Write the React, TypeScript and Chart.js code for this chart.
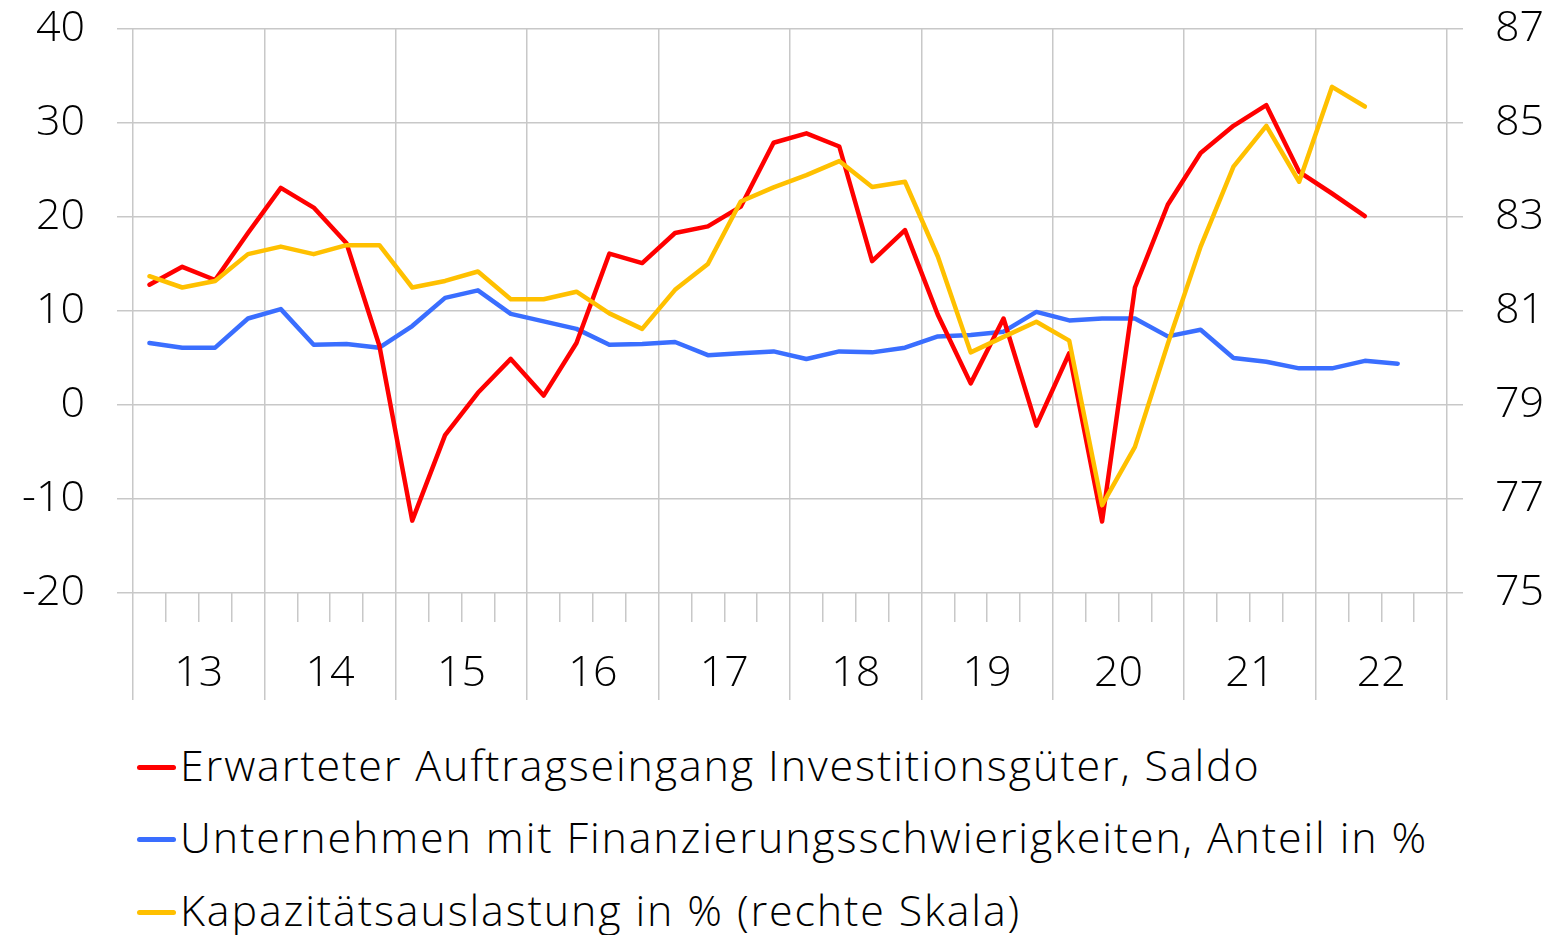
import React, { useEffect, useRef } from 'react';
import { Chart, registerables } from 'chart.js';

Chart.register(...registerables);

// ---- data ----
const years = ['13', '14', '15', '16', '17', '18', '19', '20', '21', '22'];
const quartersPerYear = 4;

const seriesLabels = [
  'Erwarteter Auftragseingang Investitionsgüter, Saldo',
  'Unternehmen mit Finanzierungsschwierigkeiten, Anteil in %',
  'Kapazitätsauslastung in % (rechte Skala)',
];

const seriesColors = ['#FF0000', '#3A6EFF', '#FFC000'];

// quarterly values, starting 2013 Q1
const auftragseingang = [
  12.8, 14.7, 13.3, 18.3, 23.1, 21.0, 17.2, 6.3,
  -12.3, -3.2, 1.3, 4.9, 1.0, 6.6, 16.1, 15.1,
  18.3, 19.0, 21.1, 27.9, 28.9, 27.5, 15.3, 18.6,
  9.6, 2.3, 9.2, -2.2, 5.5, -12.4, 12.5, 21.3,
  26.8, 29.7, 31.9, 24.8, 22.5, 20.1,
];

const finanzierung = [
  6.6, 6.1, 6.1, 9.2, 10.2, 6.4, 6.5, 6.1,
  8.4, 11.4, 12.2, 9.7, 8.9, 8.1, 6.4, 6.5,
  6.7, 5.3, 5.5, 5.7, 4.9, 5.7, 5.6, 6.1,
  7.3, 7.45, 7.8, 9.9, 9.0, 9.2, 9.2, 7.3,
  8.0, 5.0, 4.6, 3.9, 3.9, 4.7, 4.4,
];

const kapazitaet = [
  81.74, 81.5, 81.64, 82.21, 82.37, 82.21, 82.4, 82.4,
  81.5, 81.64, 81.84, 81.25, 81.25, 81.41, 80.95, 80.62,
  81.45, 82.0, 83.33, 83.63, 83.89, 84.19, 83.64, 83.75,
  82.16, 80.12, 80.45, 80.77, 80.37, 76.87, 78.11, 80.3,
  82.37, 84.07, 84.94, 83.75, 85.77, 85.35,
];

const leftMin = -20;
const leftMax = 40;
const leftStep = 10;
const rightMin = 75;
const rightMax = 87;
const rightStep = 2;

// ---- style ----
const GRID = '#c8c8c8';
const FONT_FAMILY = '"Open Sans", Lato, sans-serif';
const TEXT = '#000000';

const toPoints = (vals: number[]) => vals.map((v, i) => ({ x: i + 0.5, y: v }));

export default function App() {
  const canvasRef = useRef<HTMLCanvasElement | null>(null);

  useEffect(() => {
    const canvas = canvasRef.current;
    if (!canvas) return;
    const totalQ = years.length * quartersPerYear;
    const tickFont = { family: FONT_FAMILY, size: 43, weight: '300' as any };

    const lineStyle = (i: number) => ({
      borderColor: seriesColors[i],
      backgroundColor: seriesColors[i],
      borderWidth: 4.5,
      pointRadius: 0,
      pointHoverRadius: 0,
      tension: 0,
      borderJoinStyle: 'round' as const,
      borderCapStyle: 'round' as const,
      fill: false,
    });

    const fitY = (w: number) => (s: any) => {
      s.width = w;
      s.paddingTop = 29;
      s.paddingBottom = 0;
    };

    const chart = new Chart(canvas, {
      type: 'line',
      data: {
        datasets: [
          { label: seriesLabels[0], data: toPoints(auftragseingang), yAxisID: 'y', order: 1, ...lineStyle(0) },
          { label: seriesLabels[1], data: toPoints(finanzierung), yAxisID: 'y', order: 2, ...lineStyle(1) },
          { label: seriesLabels[2], data: toPoints(kapazitaet), yAxisID: 'y2', order: 0, ...lineStyle(2) },
        ],
      },
      options: {
        animation: false,
        responsive: false,
        maintainAspectRatio: false,
        layout: { padding: 0 },
        plugins: {
          legend: { display: false },
          tooltip: { enabled: false },
        },
        scales: {
          x: {
            type: 'linear',
            position: 'bottom',
            min: 0,
            max: totalQ,
            ticks: {
              stepSize: 1,
              autoSkip: false,
              maxRotation: 0,
              minRotation: 0,
              padding: -52,
              color: TEXT,
              font: tickFont,
              callback: (v: any) => {
                const n = Number(v);
                return n % quartersPerYear === 2 ? years[(n - 2) / quartersPerYear] : '';
              },
            },
            grid: {
              color: (ctx: any) => (ctx.tick && ctx.tick.value % quartersPerYear === 0 ? GRID : 'rgba(0,0,0,0)'),
              tickColor: GRID,
              lineWidth: 1.5,
              tickWidth: 1.5,
              tickLength: 107,
              tickBorderDash: (ctx: any) => (ctx.tick && ctx.tick.value % quartersPerYear === 0 ? [] : [29, 400]),
            } as any,
            border: { display: false },
            afterFit: (s: any) => {
              s.height = 127;
              s.paddingLeft = 0;
              s.paddingRight = 0;
            },
          },
          y: {
            type: 'linear',
            position: 'left',
            min: leftMin,
            max: leftMax,
            ticks: { stepSize: leftStep, padding: 32, color: TEXT, font: tickFont },
            grid: { color: GRID, lineWidth: 1.5, tickLength: 16 },
            border: { display: false },
            afterFit: fitY(133),
          },
          y2: {
            type: 'linear',
            position: 'right',
            min: rightMin,
            max: rightMax,
            ticks: { stepSize: rightStep, padding: 32, color: TEXT, font: tickFont },
            grid: { drawOnChartArea: false, color: GRID, lineWidth: 1.5, tickLength: 16 },
            border: { display: false },
            afterFit: fitY(105),
          },
        },
      },
    });
    return () => chart.destroy();
  }, []);

  const rowTop0 = 739.5;
  const rowGap = 72.9;

  return (
    <div style={{ position: 'absolute', left: 0, top: 0, width: 1552, height: 935, background: '#fff', overflow: 'hidden' }}>
      <canvas ref={canvasRef} width={1552} height={720} style={{ position: 'absolute', left: 0, top: 0, width: 1552, height: 720 }} />
      {seriesLabels.map((label, i) => (
        <div
          key={label}
          style={{
            position: 'absolute',
            left: 137,
            top: rowTop0 + i * rowGap,
            height: 50,
            whiteSpace: 'nowrap',
            fontFamily: FONT_FAMILY,
            fontWeight: 300,
            fontSize: 43,
            letterSpacing: '1.85px',
            lineHeight: '50px',
            color: TEXT,
          }}
        >
          <span
            style={{
              position: 'absolute',
              left: 0,
              top: 27.5 - 2.5,
              width: 39,
              height: 5,
              borderRadius: 2.5,
              background: seriesColors[i],
            }}
          />
          <span style={{ position: 'absolute', left: 43, top: 0 }}>{label}</span>
        </div>
      ))}
    </div>
  );
}
